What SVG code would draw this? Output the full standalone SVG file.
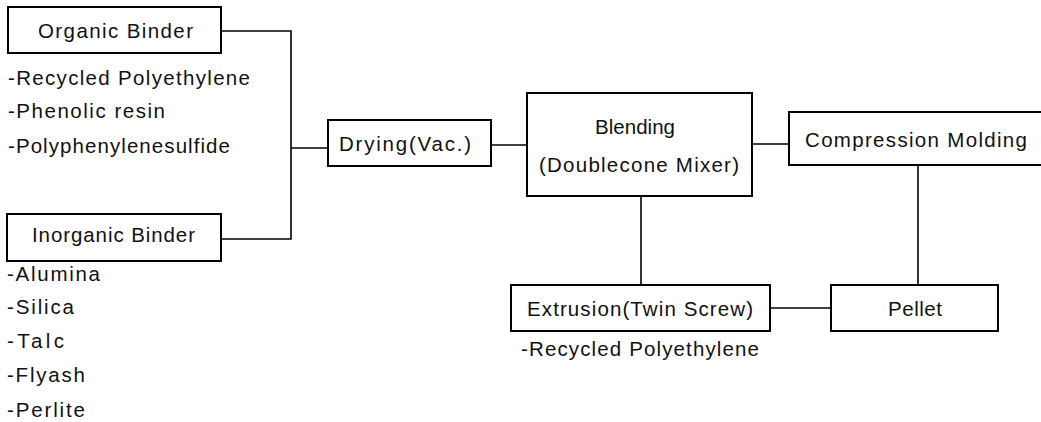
<svg xmlns="http://www.w3.org/2000/svg" width="1041" height="422" viewBox="0 0 1041 422">
<style>
.box{fill:#fff;stroke:#000;stroke-width:2}
.ln{fill:none;stroke:#000;stroke-width:1.6}
text{font-family:"Liberation Sans",Arial,sans-serif;font-size:20.5px;fill:#111}
</style>
<rect width="1041" height="422" fill="#fff"/>
<g id="connectors">
<path class="ln" d="M221,31 H291 V239 H221"/>
<path class="ln" d="M291,148 H328"/>
<path class="ln" d="M491,145 H527"/>
<path class="ln" d="M752,144 H789"/>
<path class="ln" d="M641,196 V285"/>
<path class="ln" d="M918,165 V285"/>
<path class="ln" d="M770,308 H831"/>
</g>
<g id="organic">
<rect class="box" x="8" y="7" width="213" height="46"/>
<text x="38" y="38" textLength="155" lengthAdjust="spacing">Organic Binder</text>
<text x="8" y="85" textLength="242" lengthAdjust="spacing">-Recycled Polyethylene</text>
<text x="8" y="118" textLength="157" lengthAdjust="spacing">-Phenolic resin</text>
<text x="8" y="153" textLength="222" lengthAdjust="spacing">-Polyphenylenesulfide</text>
</g>
<g id="inorganic">
<rect class="box" x="7" y="214" width="214" height="47"/>
<text x="32" y="242" textLength="163" lengthAdjust="spacing">Inorganic Binder</text>
<text x="7" y="281" textLength="93" lengthAdjust="spacing">-Alumina</text>
<text x="7" y="314" textLength="67" lengthAdjust="spacing">-Silica</text>
<text x="7" y="348" textLength="57" lengthAdjust="spacing">-Talc</text>
<text x="7" y="382" textLength="78" lengthAdjust="spacing">-Flyash</text>
<text x="7" y="417" textLength="78" lengthAdjust="spacing">-Perlite</text>
</g>
<g id="drying">
<rect class="box" x="328" y="120" width="163" height="46"/>
<text x="339" y="151" textLength="132" lengthAdjust="spacing">Drying(Vac.)</text>
</g>
<g id="blending">
<rect class="box" x="527" y="93" width="225" height="103"/>
<text x="595" y="134" textLength="80" lengthAdjust="spacing">Blending</text>
<text x="539" y="172" textLength="200" lengthAdjust="spacing">(Doublecone Mixer)</text>
</g>
<g id="compression">
<rect class="box" x="789" y="112" width="270" height="53"/>
<text x="805" y="147" textLength="222" lengthAdjust="spacing">Compression Molding</text>
</g>
<g id="extrusion">
<rect class="box" x="511" y="285" width="259" height="46"/>
<text x="527" y="316" textLength="226" lengthAdjust="spacing">Extrusion(Twin Screw)</text>
<text x="521" y="356" textLength="238" lengthAdjust="spacing">-Recycled Polyethylene</text>
</g>
<g id="pellet">
<rect class="box" x="831" y="285" width="167" height="46"/>
<text x="888" y="316" textLength="54" lengthAdjust="spacing">Pellet</text>
</g>
</svg>
